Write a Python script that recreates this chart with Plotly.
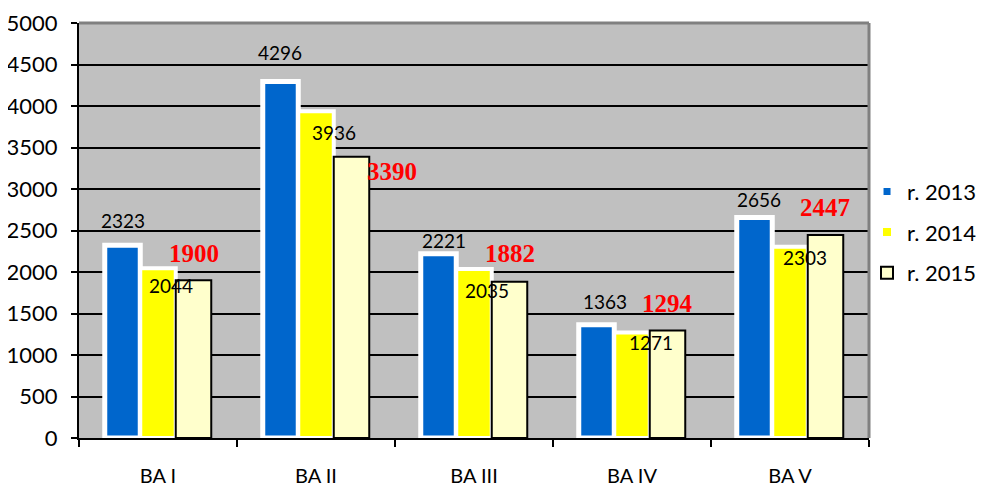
import plotly.graph_objects as go

categories = ["BA I", "BA II", "BA III", "BA IV", "BA V"]
series_names = ["r. 2013", "r. 2014", "r. 2015"]
values_2013 = [2323, 4296, 2221, 1363, 2656]
values_2014 = [2044, 3936, 2035, 1271, 2303]
values_2015 = [1900, 3390, 1882, 1294, 2447]
y_ticks = [0, 500, 1000, 1500, 2000, 2500, 3000, 3500, 4000, 4500, 5000]

# label pixel offsets (dx, dy relative to bar top, screen px, +dy = down)
lab_off_2013 = [(0, -25), (-1, -29), (5, -13), (8, -23), (4, -18)]
lab_off_2014 = [(13, 17), (18, 21), (13, 21), (19, 10), (15, 11)]
lab_off_2015 = [(0, -27), (40, 15), (0, -28), (0, -27), (-1, -27)]

fill_colors = ["#0066CC", "#FFFF00", "#FFFFCC"]
line_colors = ["#FFFFFF", "#FFFFFF", "#000000"]
line_widths = [5, 4, 2]

LABEL_FONT = "Lato, 'Open Sans', sans-serif"

fig = go.Figure()
all_vals = [values_2013, values_2014, values_2015]
for i, (name, vals) in enumerate(zip(series_names, all_vals)):
    fig.add_trace(go.Bar(
        x=categories, y=vals, name=name,
        marker=dict(color=fill_colors[i],
                    line=dict(color=line_colors[i], width=line_widths[i])),
        legendgroup=name,
    ))

bar_px = 35.5
offsets = [-bar_px, 0, bar_px]
annos = []
label_specs = [
    (values_2013, lab_off_2013, dict(family=LABEL_FONT, size=19, color="black")),
    (values_2014, lab_off_2014, dict(family=LABEL_FONT, size=19, color="black")),
    (values_2015, lab_off_2015, dict(family="'Liberation Serif', 'Times New Roman', serif",
                                     size=25, color="#FF0000", weight="bold")),
]
for s, (vals, offs, font) in enumerate(label_specs):
    for c, v in enumerate(vals):
        dx, dy = offs[c]
        annos.append(dict(
            x=categories[c], y=v, xref="x", yref="y", text=str(v),
            showarrow=False, xshift=offsets[s] + dx, yshift=-dy,
            font=font, xanchor="center", yanchor="middle",
        ))

# page body has an 8px default margin, so the figure is sized to fit the window
fig.update_layout(
    width=976, height=480, autosize=False,
    margin=dict(l=71, r=115, t=15, b=50, autoexpand=False),
    paper_bgcolor="white", plot_bgcolor="#C0C0C0",
    barmode="group", bargap=0.326, bargroupgap=0,
    showlegend=True,
    legend=dict(x=0.9975, xanchor="left", y=0.496, yanchor="middle",
                font=dict(family=LABEL_FONT, size=22, color="black"),
                tracegroupgap=9, bgcolor="rgba(0,0,0,0)"),
    annotations=annos,
    font=dict(family=LABEL_FONT, color="black"),
)
fig.update_xaxes(
    type="category", tickson="boundaries", ticks="outside", ticklen=7,
    tickwidth=2, tickcolor="black", showline=True, linecolor="black",
    linewidth=2, showgrid=False, tickfont=dict(size=20, family=LABEL_FONT),
    ticklabelstandoff=19, automargin=False,
)
fig.update_yaxes(
    range=[0, 5000], tickvals=y_ticks, ticks="outside", ticklen=6,
    tickwidth=2, tickcolor="black", showline=True, linecolor="black",
    linewidth=2, showgrid=True, gridcolor="black", gridwidth=2,
    zeroline=False, tickfont=dict(size=22, family=LABEL_FONT),
    ticklabelstandoff=9, automargin=False,
)
# gray top/right frame of the plot area
fig.add_shape(type="line", xref="paper", yref="paper", x0=0, x1=1, y0=1, y1=1,
              line=dict(color="#808080", width=3))
fig.add_shape(type="line", xref="paper", yref="paper", x0=1, x1=1, y0=0, y1=1,
              line=dict(color="#808080", width=3))

fig.write_html("out.html")
